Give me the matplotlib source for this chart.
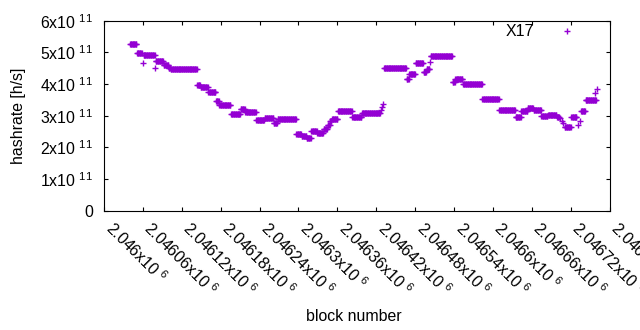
import matplotlib
matplotlib.use("Agg")
import matplotlib.pyplot as plt
import numpy as np
from matplotlib.ticker import FuncFormatter, MultipleLocator

plt.rcParams['font.family'] = ['Liberation Sans', 'DejaVu Sans']
plt.rcParams['mathtext.fontset'] = 'custom'
plt.rcParams['mathtext.rm'] = 'Liberation Sans'
plt.rcParams['mathtext.it'] = 'Liberation Sans'

# difficulty steps: block offsets from 2046000, hashrate in 1e11 h/s
base_block = 2046000
seg_start = [40, 51, 60, 61, 79, 80, 92, 100, 103, 144, 149, 161, 173, 178, 196,
             211, 218, 235, 248, 262, 268, 297, 305, 313, 320, 329, 339, 345, 349,
             352, 361, 383, 398, 427, 429, 431, 432, 467, 471, 481, 493, 498, 503,
             504, 538, 542, 554, 584, 610, 635, 644, 654, 663, 675, 685, 699, 704,
             706, 708, 711, 721, 732, 735, 736, 743, 758, 760]
seg_end = [50, 58, 60, 78, 79, 91, 99, 102, 143, 148, 160, 172, 177, 195, 210,
           217, 234, 247, 261, 267, 296, 304, 312, 319, 328, 338, 344, 348, 351,
           360, 382, 397, 426, 427, 429, 431, 466, 470, 480, 492, 497, 502, 503,
           537, 541, 553, 583, 609, 634, 643, 653, 662, 674, 684, 698, 702, 704,
           706, 708, 720, 729, 732, 735, 742, 759, 758, 760]
seg_rate = [5.28, 4.99, 4.65, 4.91, 4.50, 4.72, 4.61, 4.52, 4.46, 3.97, 3.90, 3.74,
            3.46, 3.33, 3.05, 3.22, 3.13, 2.85, 2.92, 2.78, 2.89, 2.42, 2.36, 2.29,
            2.53, 2.46, 2.58, 2.72, 2.82, 2.89, 3.14, 2.97, 3.07, 3.18, 3.26, 3.37,
            4.50, 4.16, 4.31, 4.65, 4.37, 4.46, 4.70, 4.88, 4.08, 4.15, 3.99, 3.52,
            3.17, 2.96, 3.15, 3.23, 3.17, 2.98, 3.02, 2.95, 2.94, 2.84, 2.78, 2.63,
            2.97, 2.71, 2.83, 3.14, 3.49, 3.71, 3.83]

# one point per block
blocks = []
rates = []
for s, e, r in zip(seg_start, seg_end, seg_rate):
    for b in range(s, e + 1):
        blocks.append(base_block + b)
        rates.append(r * 1e11)
blocks = np.array(blocks)
rates = np.array(rates)

fig = plt.figure(figsize=(6.4, 3.3), dpi=100)
ax = fig.add_axes([104 / 640, 119.3 / 330, 505.5 / 640, 190 / 330])

color = '#9400D3'
ax.plot(blocks, rates, linestyle='none', marker='+', markersize=5.0,
        markeredgewidth=1.0, color=color, label='X17')

ax.set_xlim(2046000, 2046780)
ax.set_ylim(0, 6e11)
ax.xaxis.set_major_locator(MultipleLocator(60))
ax.yaxis.set_major_locator(MultipleLocator(1e11))


def xfmt(v, pos):
    return '%gx10$\\ ^{6}$' % (v / 1e6)


def yfmt(v, pos):
    if abs(v) < 1:
        return '0'
    return '%dx10$\\ ^{11}$' % round(v / 1e11)


ax.xaxis.set_major_formatter(FuncFormatter(xfmt))
ax.yaxis.set_major_formatter(FuncFormatter(yfmt))

fs = 11.4
ax.tick_params(direction='in', length=3.2, width=0.8, top=True, right=True,
               labelsize=fs, colors='black')
ax.tick_params(axis='y', pad=8)
ax.tick_params(axis='x', pad=13.5)
for lab in ax.get_xticklabels():
    lab.set_rotation(-45)
    lab.set_ha('left')
    lab.set_va('baseline')
    lab.set_rotation_mode('anchor')

for sp in ax.spines.values():
    sp.set_linewidth(0.8)

ax.set_xlabel('block number', fontsize=fs)
ax.xaxis.set_label_coords(0.4946, -0.515)
ax.set_ylabel('hashrate [h/s]', fontsize=fs)
ax.yaxis.set_label_coords(-0.155, 0.5)

ax.legend(loc='upper right', bbox_to_anchor=(0.951, 0.99), frameon=False,
          markerfirst=False, fontsize=fs, handlelength=2.0, handletextpad=1.1,
          borderpad=0.1, borderaxespad=0.0, markerscale=1.0)

fig.savefig('out.png', dpi=100)
